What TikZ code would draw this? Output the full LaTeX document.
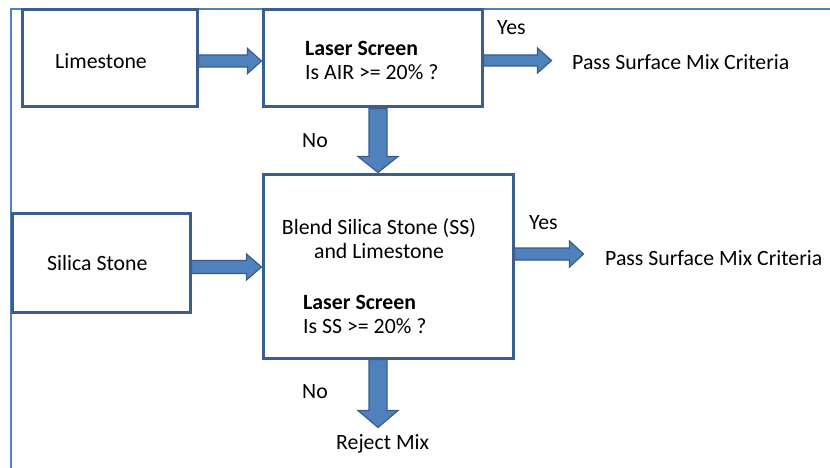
\documentclass[tikz,border=0pt]{standalone}
\usepackage{fontspec}
\setmainfont{Carlito}
\usetikzlibrary{calc}
\pgfdeclarelayer{bg}
\pgfsetlayers{bg,main}
\definecolor{frameblue}{HTML}{4F81BD}
\definecolor{boxline}{HTML}{3A5F8E}
\definecolor{arrowfill}{HTML}{4F81BD}
\definecolor{arrowline}{HTML}{385D8A}
\tikzset{
  box/.style={draw=boxline, line width=3pt, fill=white, inner sep=0pt},
  txt/.style={inner sep=0pt, anchor=west, font=\fontsize{21.8}{24}\selectfont, text=black},
  blockarrow/.style={fill=arrowfill, draw=arrowline, line width=1.2pt, line join=miter},
}
% #1 start, #2 end, #3 shaft half width, #4 head half width, #5 head length
\newcommand{\blockarr}[5]{%
  \coordinate (ba1) at (#1); \coordinate (ba2) at (#2);
  \coordinate (bah) at ($(ba2)!#5!(ba1)$);
  \filldraw[blockarrow] ($(ba1)!#3!90:(ba2)$) -- ($(bah)!#3!-90:(ba1)$) -- ($(bah)!#4!-90:(ba1)$) -- (ba2) -- ($(bah)!#4!90:(ba1)$) -- ($(bah)!#3!90:(ba1)$) -- ($(ba1)!#3!-90:(ba2)$) -- cycle;}
\begin{document}
\begin{tikzpicture}[x=1pt,y=-1pt]
\useasboundingbox (0,0) rectangle (830,468);
% frame
\draw[frameblue, line width=2pt] (11,468) -- (11,9) -- (830,9);
% boxes
\node[box, minimum width=175pt, minimum height=97pt] (lime) at (109.5,58.5) {};
\node[box, minimum width=219pt, minimum height=97pt] (ls1) at (372.5,58.5) {};
\node[box, minimum width=250pt, minimum height=184pt] (big) at (388,266) {};
\node[box, minimum width=178pt, minimum height=99pt] (silica) at (101,262.5) {};
% texts
\node[txt] (limet) at (55,61) {Limestone};
\node[txt, align=left] (ls1t) at (305,60) {\textbf{Laser Screen}\\Is AIR >= 20\% ?};
\node[txt] (yes1) at (497,28) {Yes};
\node[txt] (pass1) at (572,62) {Pass Surface Mix Criteria};
\node[txt] (no1) at (302,141) {No};
\node[txt] (silicat) at (47,263) {Silica Stone};
\node[txt, anchor=center, align=center] (blendt) at (379,238.5) {Blend Silica Stone (SS)\\and Limestone};
\node[txt, align=left] (ls2t) at (303,314) {\textbf{Laser Screen}\\Is SS >= 20\% ?};
\node[txt] (yes2) at (529,223) {Yes};
\node[txt] (pass2) at (605,258) {Pass Surface Mix Criteria};
\node[txt] (no2) at (302,392) {No};
\node[txt] (reject) at (336,444) {Reject Mix};
% connector points
\coordinate (a1s) at ([yshift=-2.5pt]lime.east);
\coordinate (a1e) at (a1s -| ls1.west);
\coordinate (a2s) at ([yshift=-2pt]ls1.east);
\coordinate (ptip1) at ([xshift=68pt]a2s);
\coordinate (a3s) at ([xshift=5.5pt]ls1.south);
\coordinate (a3e) at (a3s |- big.north);
\coordinate (a4s) at ([yshift=-4.5pt]silica.east);
\coordinate (a4e) at (a4s -| big.west);
\coordinate (a5s) at ([yshift=12pt]big.east);
\coordinate (ptip2) at ([xshift=69pt]a5s);
\coordinate (a6s) at ([xshift=-10pt]big.south);
\coordinate (rejtip) at ([yshift=-68pt]a6s);
\begin{pgfonlayer}{bg}
\fill[white] (0,0) rectangle (830,468);
\blockarr{a1s}{a1e}{6pt}{12.5pt}{14pt}
\blockarr{a2s}{ptip1}{5.5pt}{12.5pt}{14pt}
\blockarr{a3s}{a3e}{9pt}{20pt}{16pt}
\blockarr{a4s}{a4e}{6.5pt}{13pt}{15pt}
\blockarr{a5s}{ptip2}{6pt}{13pt}{14pt}
\blockarr{a6s}{rejtip}{9pt}{20pt}{17pt}
\end{pgfonlayer}
\end{tikzpicture}
\end{document}
